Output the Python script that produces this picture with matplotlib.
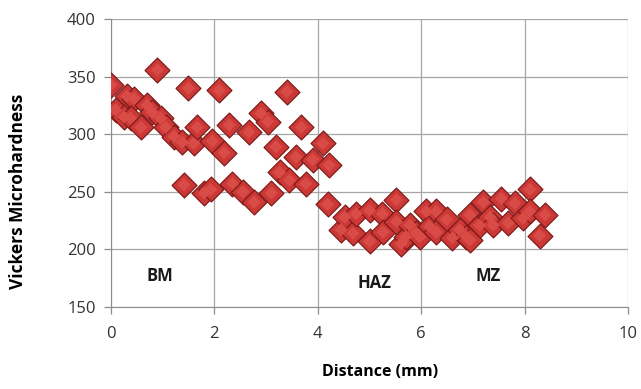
import matplotlib
matplotlib.use('Agg')
import matplotlib.pyplot as plt

plt.rcParams['font.family'] = ['Open Sans', 'DejaVu Sans']

# distance (mm) / Vickers hardness readings
bm_x = [0.00, 0.09, 0.31, 0.45, 0.25, 0.38, 0.58, 0.70, 0.80, 0.90, 0.96, 1.06,
        1.22, 1.38, 1.41, 1.50, 1.60, 1.67, 1.80, 1.93, 1.96, 2.09, 2.19, 2.29,
        2.35, 2.55, 2.67, 2.77, 2.90, 3.03, 3.10, 3.19, 3.26, 3.40, 3.45, 3.58,
        3.68, 3.77, 3.90, 4.10, 4.22, 4.19]
bm_y = [343, 321, 333, 331, 315, 314, 306, 325, 319, 356, 314, 306,
        298, 293, 256, 340, 292, 306, 249, 252, 294, 338, 284, 308,
        257, 250, 302, 241, 318, 311, 249, 289, 267, 337, 260, 280,
        306, 257, 278, 292, 273, 239]

haz_x = [4.45, 4.52, 4.68, 4.74, 5.00, 5.00, 5.25, 5.26, 5.52, 5.52, 5.61,
         5.70, 5.78, 5.90, 5.97, 6.10, 6.16]
haz_y = [217, 228, 214, 231, 234, 207, 231, 215, 243, 224, 205,
         211, 221, 214, 211, 233, 220]

mz_x = [6.29, 6.29, 6.49, 6.60, 6.74, 6.87, 6.94, 6.94, 7.13, 7.20, 7.33,
        7.39, 7.55, 7.68, 7.81, 7.97, 8.10, 8.10, 8.29, 8.39]
mz_y = [233, 215, 226, 210, 217, 211, 230, 208, 221, 241, 228,
        221, 244, 223, 240, 227, 252, 233, 212, 230]

zones = ['BM', 'HAZ', 'MZ']
zone_x = [0.95, 5.1, 7.3]
zone_y = [177, 171, 177]

x_ticks = [0, 2, 4, 6, 8, 10]
y_ticks = [150, 200, 250, 300, 350, 400]

fig = plt.figure(figsize=(6.41, 3.89), dpi=100)
ax = fig.add_axes([0.173, 0.211, 0.807, 0.740])

xs = bm_x + haz_x + mz_x
ys = bm_y + haz_y + mz_y
ax.scatter(xs, ys, marker='D', s=160, facecolor='#cc3835', edgecolor='#7e1c1a',
           linewidth=0.9, zorder=3)
# soft highlight in the middle of each diamond (gives the bevelled look)
ax.scatter(xs, ys, marker='D', s=45, facecolor='#d94b47', edgecolor='none',
           zorder=4)

for lab, zx, zy in zip(zones, zone_x, zone_y):
    ax.text(zx, zy, lab, ha='center', va='center', fontsize=12,
            fontweight='bold', color='#1a1a1a')

ax.set_xlim(0, 10)
ax.set_ylim(150, 400)
ax.set_xticks(x_ticks)
ax.set_yticks(y_ticks)
ax.grid(True, color='#a6a6a6', linewidth=0.9)
ax.set_axisbelow(True)
for side in ['top', 'right']:
    ax.spines[side].set_visible(False)
for side in ['left', 'bottom']:
    ax.spines[side].set_color('#8c8c8c')
ax.tick_params(length=5, width=0.9, color='#8c8c8c', labelsize=12,
               labelcolor='#333333')
ax.tick_params(axis='x', pad=9)
ax.tick_params(axis='y', pad=6)

ax.set_xlabel('Distance (mm)', fontsize=11.5, fontweight='bold')
ax.set_ylabel('Vickers Microhardness', fontsize=12.5, fontweight='bold')
ax.xaxis.set_label_coords(0.52, -0.2)
ax.yaxis.set_label_coords(-0.162, 0.40)

fig.savefig('out.png', dpi=100)
